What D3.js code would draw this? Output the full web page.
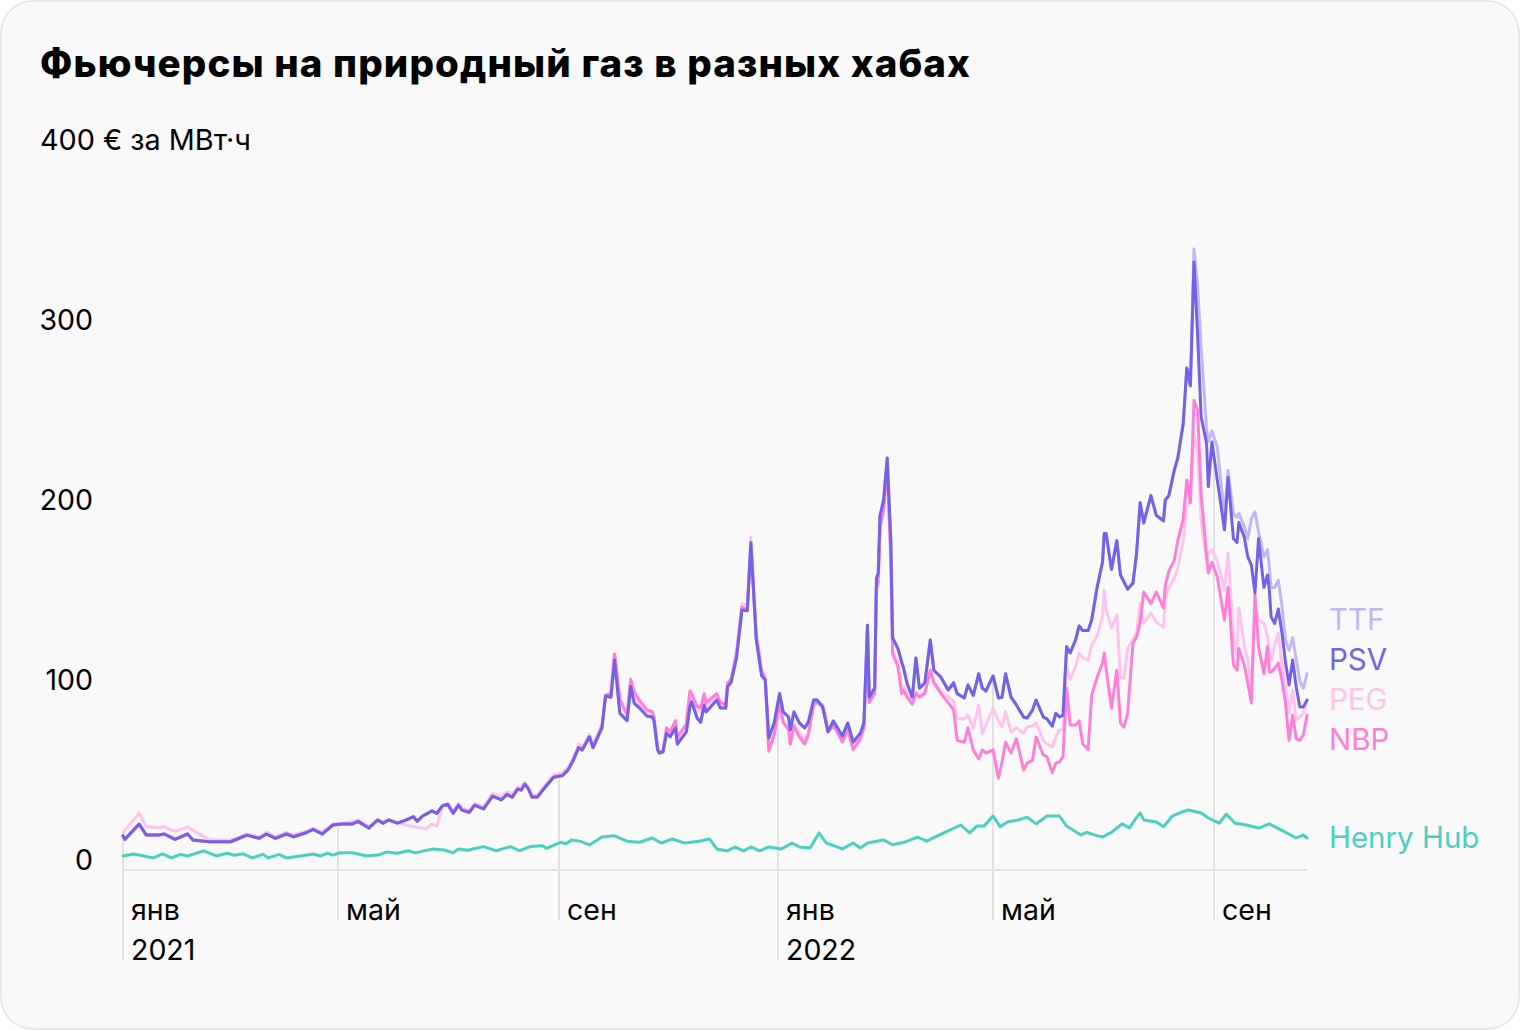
<!DOCTYPE html>
<html><head><meta charset="utf-8">
<script src="https://cdn.jsdelivr.net/npm/d3@7"></script>
<style>
body{margin:0;background:#ffffff;}
svg{display:block;font-family:Inter,"Noto Sans",sans-serif;}
</style>
</head><body>
<svg id="chart" width="1520" height="1030"></svg>
<script>
// ---------- DATA (days since 1 Jan 2021, € per MWh) ----------
const euDays = [
  0,1,9,13,20,23,29,36,39,48, 60,69,76,80,85,91,95,102,106,111,
  117,122,128,131,137,142,145,148,153,158, 162,164,167,169,172,175,178,181,184,187,
  189,193,196,201,206,211,214,217,220,222, 224,226,228,231,234,240,245,248,251,254,
  256,260,262,
  267,269,272,274,277,281,283,285,288,292, 295,296,298,299,301,303,305,308,309,314,
  316,317,320,322,324,325,331,333,336,337, 339,342,345,348,350,353,356,358,
  360,363,366,368,371,372,374,377,380,382, 385,387,390,391,393,396,398,401,404,407,
  411,413,415,416,419,420,421,422,424,426, 428,429,432,434,435,437,
  440,442,444,447,450,452,456,460,463,465, 469,471,474,477,479,481,485,488,490,492,
  495,498,502,504,507,509,513,515,518,520, 522,524,526,528,531,533,535,538,540,543,
  546,547,548,551,554,556,558,560,563,565, 567,569,573,576,580,581,583,586,588,591,
  593,595,597,599,601,604,605,607,610,614, 616,619,621,622,625,627,629,631,633,636,
  638,639,640,642,644,646,648,650,652,654, 656,658,660
];
const psv = [
  19,17,25.5,19.4,19.5,20,17,20,16.7,15.7, 15.7,19.4,17.6,20,17.6,20,18.5,20.7,22.6,20,
  25,25.6,25.6,27,23.3,27.8,26,27.8,26,27.8, 29.6,27,30,31,32.8,31.5,35.6,36.5,31.5,36,
  33.3,32,36,34,41,39,42,40.5,45,44.4, 47.8,45,40.5,40.5,44.4,51.5,52.5,55.5,61,68,
  66.7,74,68,
  79,96.7,96,116.7,87,83,102,92.6,90,85.6, 85,83,66.7,65,65.6,76,74,79,70,76.7,
  90.6,93.5,84.4,82,91.7,87.8,94.4,90,90,101.7, 104.4,118,144.4,144,182,128,108,105.6,
  73.3,81.7,98,87.8,85,77.8,87.8,81.7,78.9,82, 94.4,94.4,90.6,86,76.7,82.8,79.4,74.4,81.7,71,
  76,81.7,136,96,101,162,165,197,205.6,228.9, 183,129,123,115.6,112.8,103.9,
  96,117.8,101,104,127.8,111,107,100,104,98, 95.6,102.8,97,109,101,99.4,107.8,95.6,96,109,
  96,91.7,85,84.4,88.9,94.4,85,84,80,87, 85,86,124,120.6,127.8,135.6,133,133,139,157,
  171,187,187,167,183,164,160,156,159.4,176, 204,192.8,208,197,194,205.6,208,222,228.9,248,
  278.9,269,337.8,298,251.7,237,213,237.8,216.7,189, 218,184,182,193,185,174,169.4,153.9,184,157,
  163.9,155.6,140.6,137,145,132,115.6,102.8,116.7,101.7, 90.6,90.6,94.4
];
const ttf = [
  19,17,25.5,19.4,19.5,20,17,20,16.7,15.7, 15.7,19.4,17.6,20,17.6,20,18.5,20.7,22.6,20,
  25,25.6,25.6,27,23.3,27.8,26,27.8,26,27.8, 29.6,27,30,31,32.8,31.5,35.6,36.5,31.5,36,
  33.3,32,36,34,41,39,42,40.5,45,44.4, 47.8,45,40.5,40.5,44.4,51.5,52.5,55.5,61,68,
  66.7,74,68,
  79,96.7,96,116.7,87,83,102,92.6,90,85.6, 85,83,66.7,65,65.6,76,74,79,70,76.7,
  90.6,93.5,84.4,82,91.7,87.8,94.4,90,90,101.7, 104.4,118,144.4,144,182,128,108,105.6,
  73.3,81.7,98,87.8,85,77.8,87.8,81.7,78.9,82, 94.4,94.4,90.6,86,76.7,82.8,79.4,74.4,81.7,71,
  76,81.7,136,96,101,162,165,197,205.6,228.9, 183,129,123,115.6,112.8,103.9,
  96,117.8,101,104,127.8,111,107,100,104,98, 95.6,102.8,97,109,101,99.4,107.8,95.6,96,109,
  96,91.7,85,84.4,88.9,94.4,85,84,80,87, 85,86,124,120.6,127.8,135.6,133,133,139,157,
  171,187,187,167,183,164,160,156,159.4,176, 204,192.8,208,197,194,205.6,208,222,228.9,248,
  278.9,269,345,325,290,245.6,238,244,235,197, 222,198,196,198,191,184,195,199,188,174,
  178,168,157,157,161,147,128,122,129,117, 105,101,109
];
const peg = [
  21,22,31.6,24,23.5,24,21.5,24,22,17, 16.5,20,18.5,21,18.5,21,19.5,21.5,23,21,
  25.5,26,27,28,24,28,26.5,28,26.5,25, 24,23.8,23.3,23,25.5,24.5,35.6,37,32.5,37,
  34.5,33,37,35,42.5,41,43.5,42.5,46,46, 48.5,46,41.5,41.5,45.5,53,54,57,62,70,
  68,75.5,69.5,
  81,97,99,120,93,86,104,97,92,88, 87,84,68,65,66,78,76,82,73,80,
  97,97,89,88,94,91,97,92,91,103, 106,122,148,147,185,132,111,108,
  67,76,93,82,80,70,81,76,72,76, 92,93,92,88,78,81,78,72,79,66.7,
  72,79,136,94,99,158,162,192,202,226, 175,122,115,100,102,98,
  93,99,97,99,111,105,99,96,94,84, 84,86,79,91.7,76,80.6,90,83,79.4,88,
  76.7,79,76,79.4,80,81.7,72,70,68.3,74, 77.8,78,112.8,106,112.8,120.6,118,116.7,125,130,
  140.6,155.6,145,134.4,141.7,107,106.7,123,128,131.7, 148,137,142.8,137.8,135,150,157,162,168,183,
  201.7,205,242.8,233,194,172,176,177.8,172,155.6, 176,129.4,119.4,145.6,125,116.7,100,148,139,137,
  130,120.6,115.6,125,131.7,115,101.7,87,100,83.3, 85,87,94.4
];
const nbp = [
  19,17,25.5,19.4,19.5,20,17,20,16.7,15.7, 15.7,19.4,17.6,20,17.6,20,18.5,20.7,22.6,20,
  25,25.6,25.6,27,23.3,27.8,26,27.8,26,27.8, 29.6,27,30,31,32.8,31.5,35.6,36.5,31.5,36,
  33.3,32,36,34,41,39,42,40.5,45,44.4, 47.8,45,40.5,40.5,44.4,51.5,52.5,55.5,61,68,
  66.7,74,68,
  80,97,98,120,95,86,106,99,94,89, 88,85,68,65,66,79,77,83,74,81,
  99.4,98,91,90,98,93,98,93,92,104, 106,120,146,145,180,130,110,106,
  66,75,92,82,78,70,80,74,70,75, 92,93,91,87,77,80,77,71,78,67,
  73,79,133,93,98,156,160,190,200,224, 172,120,113,98,100,96,
  92,98,96,98,111,104,98,93,89,72, 71,79,66.7,61.7,66.7,65,66.7,51,60,71,
  65,73,55.6,59.4,61,73.9,63.9,63,54,59.4, 60,63,101,80.6,80.6,82.8,70,67,97,107,
  115,120.6,112,90,111,81.7,79.4,87,126,129.4, 137.8,154.4,148,154.4,145.6,158,166,172,183,195,
  216.7,204,261,255.6,209,175,165,171,162.8,138.9, 157,114,111,123,114,103.9,92.8,152.8,124,109,
  124,110,110,112,115,105.6,93,72,86,73, 72,75,86
];
const hubDays = [
  0,6,9,17,22,27,32,36,45,52, 58,62,67,72,78,81,87,91,99,106,
  110,114,117,121,128,136,142,147,153,159, 163,167,173,179,184,187,192,195,201,208,
  216,221,227,234,236,244,247,250,255,260, 267,274,281,288,295,300,306,313,321,327,
  331,337,341,346,350,355,360,367,373,377, 383,388,392,397,401,407,411,415,424,429,
  436,443,448,454,460,467,472,476,480,485, 489,493,499,504,509,515,522,526,534,537,
  542,546,551,557,561,564,567,569,576,580, 585,590,594,601,605,611,615,620,626,633,
  639,643,648,654,658,660
];
const henryHub = [
  7.8,8.9,8.3,6.7,8.9,6.7,8.7,7.8,10.6,7.8, 9.3,8.2,9,6.7,8.7,6.7,8.7,6.7,7.8,8.9,
  7.8,9.3,8.3,9.6,9.6,7.8,8.3,10,9.3,10.7, 9.5,10.5,11.7,11.1,9.6,11.7,11,11.7,13,10.7,
  13,10.7,13,13.5,12,15.4,14.6,16.7,15.9,13.9, 18.3,19,16,15.4,17.8,15,17.2,15,16,17.2,
  11.7,10.6,12.8,10.6,12.8,10.6,12.8,11.7,15,12.8, 12.2,20.6,15,13.3,11.7,15,12.2,15,16.7,14,
  15.6,18.3,16,19,21.7,25,20.6,24.4,24.4,30, 24,26.7,27.8,29.4,25.6,30,30,24.4,19.4,21,
  19.4,18.3,21,25.6,23.3,27.8,31.7,27.8,26.7,24, 30,32.2,33.3,31.7,28.9,26,31,26,25,23.3,
  25.6,23.5,21,17.8,19.4,17.8
];
const yTicks = [0, 100, 200, 300];
const monthLabels = ["янв", "май", "сен", "янв", "май", "сен"];
const yearLabels = ["2021", "", "", "2022", "", ""];
const seriesNames = ["TTF", "PEG", "NBP", "PSV", "Henry Hub"];
const legendOrder = ["TTF", "PSV", "PEG", "NBP", "Henry Hub"];

// ---------- CHART ----------
const svg = d3.select("#chart");
const colors = {"TTF":"#c4b6f4","PSV":"#7462e6","PEG":"#ffc3ec","NBP":"#ff7fd8","Henry Hub":"#4ccfc2"};
const seriesData = {
  "TTF": {days: euDays, vals: ttf},
  "PEG": {days: euDays, vals: peg},
  "NBP": {days: euDays, vals: nbp},
  "PSV": {days: euDays, vals: psv},
  "Henry Hub": {days: hubDays, vals: henryHub}
};

svg.append("rect").attr("x",1).attr("y",1).attr("width",1518).attr("height",1028)
  .attr("rx",32).attr("fill","#f9f9f9").attr("stroke","#e8e8e8").attr("stroke-width",2);

const t0 = new Date(2021,0,1);
const toDate = d => d3.timeDay.offset(t0, d);
const x = d3.scaleTime().domain([t0, toDate(660)]).range([123, 1307]);
const y = d3.scaleLinear().domain([0, 400]).range([870, 150]);

// title (fitted to the reference width)
const title = svg.append("text").attr("x",40).attr("y",77).attr("font-size",38.5).attr("font-weight",800)
  .attr("fill","#000").text("Фьючерсы на природный газ в разных хабах");
{
  const len = title.node().getComputedTextLength();
  const n = title.text().length;
  title.attr("letter-spacing", ((930 - len)/(n-1)).toFixed(3));
}
// unit label at top tick
svg.append("text").attr("x",40).attr("y",y(400)).attr("font-size",28.8).attr("fill","#000")
  .text("400 € за МВт·ч");
// y tick labels
svg.append("g").selectAll("text").data(yTicks).join("text")
  .attr("x",93).attr("y",d=>y(d)).attr("text-anchor","end")
  .attr("font-size",28.5).attr("fill","#000").text(d=>d3.format("d")(d));

// value interpolation at tick date
function valueAt(s, day){
  const i = d3.bisectLeft(s.days, day);
  if (i <= 0) return s.vals[0];
  if (i >= s.days.length) return s.vals[s.vals.length-1];
  const d0 = s.days[i-1], d1 = s.days[i];
  const tt = (day - d0)/(d1 - d0);
  return s.vals[i-1] + (s.vals[i]-s.vals[i-1])*tt;
}

// x ticks
const ticks = d3.timeMonth.every(4).range(t0, toDate(661));
const gx = svg.append("g");
ticks.forEach((t,i)=>{
  const day = d3.timeDay.count(t0, t);
  const top = d3.max(seriesNames, n => valueAt(seriesData[n], day));
  const xx = Math.round(x(t));
  const bottom = yearLabels[i] ? 960 : 920;
  gx.append("line").attr("x1",xx).attr("x2",xx).attr("y1",y(top)).attr("y2",bottom)
    .attr("stroke","#e2e2e2").attr("stroke-width",2);
  gx.append("text").attr("x",xx+8).attr("y",920).attr("font-size",28.5).attr("fill","#000").text(monthLabels[i]);
  if (yearLabels[i]) gx.append("text").attr("x",xx+8).attr("y",960).attr("font-size",28.5).attr("fill","#000").text(yearLabels[i]);
});

// baseline
svg.append("line").attr("x1",x.range()[0]).attr("x2",x.range()[1]).attr("y1",y(0)).attr("y2",y(0))
  .attr("stroke","#e2e2e2").attr("stroke-width",2);

// lines
const line = d3.line().x(d=>x(toDate(d[0]))).y(d=>y(d[1]));
seriesNames.forEach(n=>{
  const s = seriesData[n];
  const pts = s.days.map((d,i)=>[d, s.vals[i]]);
  svg.append("path").datum(pts).attr("d",line).attr("fill","none")
    .attr("stroke",colors[n]).attr("stroke-width",3)
    .attr("stroke-linejoin","round").attr("stroke-linecap","round");
});

// legend labels
const legendY = {"TTF":630,"PSV":670,"PEG":710,"NBP":750,"Henry Hub":848};
svg.append("g").selectAll("text").data(legendOrder).join("text")
  .attr("x",1329).attr("y",d=>legendY[d]).attr("font-size",29.5)
  .attr("fill",d=>colors[d]).text(d=>d);
</script>
</body></html>
